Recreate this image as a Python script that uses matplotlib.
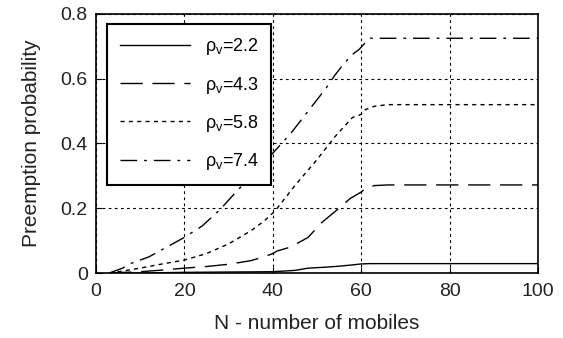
import matplotlib
matplotlib.use('Agg')
import matplotlib.pyplot as plt

# values
n_22 = [3, 10, 20, 30, 40, 45, 48, 52, 55, 58, 60, 62, 100]
p_22 = [0.0, 0.0, 0.002, 0.003, 0.004, 0.008, 0.015, 0.018, 0.021, 0.025, 0.028, 0.029, 0.029]

n_43 = [3, 10, 15, 20, 25, 30, 35, 38, 40, 41, 44, 48, 51, 55, 57.5, 60, 61, 63, 66, 100]
p_43 = [0.0, 0.004, 0.009, 0.015, 0.02, 0.027, 0.038, 0.05, 0.06, 0.068, 0.08, 0.11, 0.155, 0.2, 0.23, 0.25, 0.262, 0.27, 0.272, 0.272]

n_58 = [3, 6, 10, 15, 20, 25, 30, 35, 38, 40, 41, 45, 50, 54, 58, 60, 61, 63, 66, 100]
p_58 = [0.0, 0.006, 0.015, 0.028, 0.04, 0.06, 0.09, 0.13, 0.16, 0.185, 0.2, 0.27, 0.35, 0.42, 0.48, 0.49, 0.505, 0.515, 0.52, 0.52]

n_74 = [3, 6, 8, 12, 16, 20, 24, 28, 32, 36, 40, 44, 48, 52, 54, 56, 58, 59.5, 60.5, 62, 100]
p_74 = [0.0, 0.015, 0.03, 0.05, 0.08, 0.11, 0.145, 0.195, 0.255, 0.31, 0.37, 0.43, 0.5, 0.57, 0.61, 0.645, 0.675, 0.69, 0.705, 0.725, 0.725]

plt.rcParams['font.family'] = ['Liberation Sans', 'DejaVu Sans']
plt.rcParams['mathtext.fontset'] = 'custom'
plt.rcParams['mathtext.rm'] = 'Liberation Sans'
plt.rcParams['mathtext.it'] = 'Liberation Sans'

fig = plt.figure(figsize=(5.63, 3.38), dpi=100)
ax = fig.add_axes([0.1705, 0.1923, 0.785, 0.7663])

ax.plot(n_22, p_22, color='black', lw=1.0, linestyle='-', label=r'$\mathrm{\rho_v}$=2.2')
ax.plot(n_43, p_43, color='black', lw=1.0, linestyle=(0, (16, 7)), label=r'$\mathrm{\rho_v}$=4.3')
ax.plot(n_58, p_58, color='black', lw=1.0, linestyle=(0, (3, 3)), label=r'$\mathrm{\rho_v}$=5.8')
ax.plot(n_74, p_74, color='black', lw=1.0, linestyle=(0, (12, 5, 2, 5)), label=r'$\mathrm{\rho_v}$=7.4')

ax.set_xlim(0, 100)
ax.set_ylim(0, 0.8)
ax.set_xticks([0, 20, 40, 60, 80, 100])
ax.set_yticks([0, 0.2, 0.4, 0.6, 0.8])
ax.set_yticklabels(['0', '0.2', '0.4', '0.6', '0.8'])
ax.tick_params(direction='in', length=4, labelsize=14, color='black', labelcolor='#222222')
ax.tick_params(axis='x', pad=7)
ax.tick_params(axis='y', pad=6)
ax.grid(True, color='black', linestyle=(0, (2.5, 3)), linewidth=0.8)
for s in ax.spines.values():
    s.set_linewidth(1.2)

ax.set_xlabel('N - number of mobiles', fontsize=15, color='#222222', labelpad=10)
ax.set_ylabel('Preemption probability', fontsize=15, color='#222222', labelpad=14)

leg = ax.legend(loc='upper left', bbox_to_anchor=(0.025, 0.962), borderaxespad=0,
                fontsize=13, fancybox=False, framealpha=1, edgecolor='black',
                handlelength=3.9, labelspacing=0.95, borderpad=0.7, handletextpad=0.8)
leg.get_frame().set_linewidth(1.5)

fig.savefig('out.png', dpi=100)
